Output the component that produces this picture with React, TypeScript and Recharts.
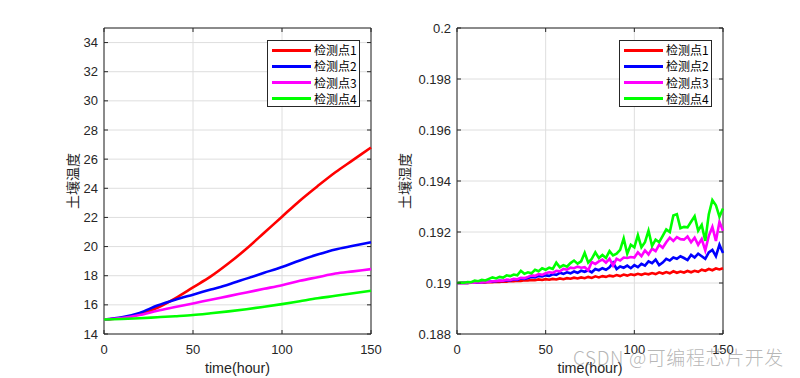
import React from "react";
import { LineChart, Line, XAxis, YAxis, CartesianGrid, ReferenceArea, Label } from "recharts";

// ---------- data ----------
const tempHours = [0, 10, 20, 30, 40, 50, 60, 70, 80, 90, 100, 110, 120, 130, 140, 150];
const temp1 = [15.0, 15.1, 15.35, 15.8, 16.45, 17.2, 17.95, 18.85, 19.85, 20.95, 22.05, 23.15, 24.15, 25.1, 25.95, 26.8];
const temp2 = [15.0, 15.15, 15.45, 15.95, 16.35, 16.7, 17.05, 17.4, 17.8, 18.2, 18.6, 19.05, 19.45, 19.8, 20.05, 20.3];
const temp3 = [15.0, 15.1, 15.3, 15.6, 15.85, 16.1, 16.35, 16.6, 16.85, 17.1, 17.35, 17.65, 17.9, 18.15, 18.3, 18.45];
const temp4 = [15.0, 15.03, 15.08, 15.15, 15.22, 15.3, 15.42, 15.55, 15.7, 15.87, 16.05, 16.25, 16.45, 16.62, 16.8, 16.97];

const humHours = [
  0, 2, 4, 6, 8, 10, 12, 14, 16, 18, 20, 22, 24, 26, 28, 30, 32, 34, 36, 38,
  40, 42, 44, 46, 48, 50, 52, 54, 56, 58, 60, 62, 64, 66, 68, 70, 72, 74, 76, 78,
  80, 82, 84, 86, 88, 90, 92, 94, 96, 98, 100, 102, 104, 106, 108, 110, 112, 114, 116, 118,
  120, 122, 124, 126, 128, 130, 132, 134, 136, 138, 140, 142, 144, 146, 148, 150,
];
const hum1 = [
  0.19, 0.19, 0.19001, 0.19, 0.19001, 0.19002, 0.19001, 0.19003, 0.19002, 0.19004,
  0.19003, 0.19005, 0.19004, 0.19006, 0.19005, 0.19008, 0.19007, 0.19009, 0.19008, 0.19011,
  0.1901, 0.19012, 0.19011, 0.19014, 0.19012, 0.19015, 0.19013, 0.19016, 0.19014, 0.19018,
  0.19015, 0.19019, 0.19017, 0.19021, 0.19018, 0.19022, 0.19019, 0.19024, 0.1902, 0.19026,
  0.19022, 0.19027, 0.19024, 0.19029, 0.19026, 0.19031, 0.19027, 0.19033, 0.19029, 0.19034,
  0.19031, 0.19036, 0.19032, 0.19037, 0.19034, 0.19039, 0.19035, 0.19042, 0.19037, 0.19043,
  0.19038, 0.19046, 0.1904, 0.19045, 0.19041, 0.19047, 0.19042, 0.19048, 0.19044, 0.19052,
  0.19048, 0.19055, 0.1905, 0.19057, 0.19053, 0.19058,
];
const hum2 = [
  0.19, 0.19, 0.19001, 0.19, 0.19002, 0.19001, 0.19002, 0.19003, 0.19004, 0.19005,
  0.19006, 0.19007, 0.19009, 0.19008, 0.19011, 0.1901, 0.19014, 0.19012, 0.19018, 0.19016,
  0.1902, 0.19024, 0.19022, 0.19028, 0.19026, 0.1903, 0.19028, 0.19034, 0.19032, 0.1904,
  0.19036, 0.19042, 0.19038, 0.19045, 0.1904, 0.19048, 0.19044, 0.1905, 0.19042, 0.19055,
  0.1905, 0.19058, 0.19052, 0.19062, 0.1908, 0.19055, 0.19065, 0.1906, 0.19068, 0.19058,
  0.1907, 0.19062, 0.19075, 0.19068, 0.19085, 0.19078, 0.19092, 0.1907, 0.1908, 0.19095,
  0.19088, 0.191, 0.19095, 0.19105, 0.19098, 0.1909, 0.1911, 0.191, 0.19115, 0.19105,
  0.19095, 0.1912, 0.1913, 0.19105, 0.1915, 0.19118,
];
const hum3 = [
  0.19, 0.19, 0.19001, 0.19, 0.19002, 0.19001, 0.19003, 0.19002, 0.19005, 0.19004,
  0.19007, 0.19008, 0.1901, 0.19009, 0.19013, 0.19012, 0.19016, 0.19015, 0.1902, 0.19019,
  0.19024, 0.1903, 0.19028, 0.19035, 0.19032, 0.19038, 0.19042, 0.1904, 0.19048, 0.19046,
  0.19055, 0.19052, 0.1906, 0.19058, 0.19064, 0.1906, 0.19062, 0.1905, 0.19082, 0.19075,
  0.19085, 0.19092, 0.1908, 0.19095, 0.19068, 0.19095, 0.19088, 0.191, 0.19098, 0.19102,
  0.191, 0.1912, 0.19105, 0.19128, 0.19112, 0.19135, 0.19125, 0.1915, 0.19138, 0.1916,
  0.19178, 0.19165, 0.1918, 0.19172, 0.1917, 0.19182, 0.1916, 0.19178, 0.1915, 0.19172,
  0.19128, 0.19185, 0.1922, 0.19165, 0.1924, 0.19205,
];
const hum4 = [
  0.19, 0.19002, 0.19001, 0.19004, 0.19003, 0.19009, 0.19007, 0.19012, 0.1901, 0.19016,
  0.19022, 0.19018, 0.19024, 0.19021, 0.1903, 0.19027, 0.19033, 0.1903, 0.19048, 0.19036,
  0.19042, 0.19038, 0.19052, 0.19046, 0.19058, 0.19052, 0.1906, 0.19055, 0.1908, 0.19062,
  0.1907, 0.19064, 0.19078, 0.19088, 0.19076, 0.19085, 0.19118, 0.1908, 0.19095, 0.1912,
  0.19098, 0.1911, 0.19098, 0.19125, 0.19108, 0.19115, 0.1913, 0.19175, 0.19115, 0.1915,
  0.1914, 0.19188, 0.1914, 0.1916, 0.19205, 0.19145, 0.1917, 0.1916, 0.19185, 0.1921,
  0.192, 0.19265, 0.1927, 0.19215, 0.1922, 0.19218, 0.1924, 0.19262, 0.19205, 0.19228,
  0.19165, 0.1927, 0.19325, 0.19305, 0.1926, 0.19292,
];

const seriesNames = ["检测点1", "检测点2", "检测点3", "检测点4"];
const seriesColors = ["#ff0000", "#0000ff", "#ff00ff", "#00ff00"];
const xTicks = [0, 50, 100, 150];
const tempTicks = [14, 16, 18, 20, 22, 24, 26, 28, 30, 32, 34];
const humTicks = [0.188, 0.19, 0.192, 0.194, 0.196, 0.198, 0.2];
const tempLabel = "土壤温度";
const humLabel = "土壤湿度";
const xLabel = "time(hour)";
const watermark = "CSDN @可编程芯片开发";

const tempData = tempHours.map((t, i) => ({ t, s1: temp1[i], s2: temp2[i], s3: temp3[i], s4: temp4[i] }));
const humData = humHours.map((t, i) => ({ t, s1: hum1[i], s2: hum2[i], s3: hum3[i], s4: hum4[i] }));

// ---------- layout ----------
const FONT = "'Liberation Sans', Arial, Helvetica, sans-serif";
const CJK = "'Noto Sans CJK SC', 'Liberation Sans', sans-serif";
const TXT = "#262626";
const CH_H = 378;
const PLOT_TOP = 28;
const PLOT_BOTTOM = 334;
const TICK_LEN = 4;

type PanelProps = {
  data: any[];
  width: number;
  yDomain: [number, number];
  yTicks: number[];
  yFmt: (v: number) => string;
  yAxisWidth: number;
  rightMargin: number;
  yLabel: string;
  yLabelX: number;
  lineType: "monotone" | "linear";
};

function Panel(p: PanelProps) {
  const plotLeft = p.yAxisWidth;
  const plotRight = p.width - p.rightMargin;

  const XTick = (props: any) => {
    const { x, y, payload } = props;
    return (
      <g>
        <line x1={x} x2={x} y1={y} y2={y - TICK_LEN} stroke={TXT} strokeWidth={1} />
        <line x1={x} x2={x} y1={PLOT_TOP} y2={PLOT_TOP + TICK_LEN} stroke={TXT} strokeWidth={1} />
        <text x={x} y={y + 20} textAnchor="middle" fill={TXT} fontSize={13} fontFamily={FONT}>
          {payload.value}
        </text>
      </g>
    );
  };
  const YTick = (props: any) => {
    const { x, y, payload } = props;
    return (
      <g>
        <line x1={x} x2={x + TICK_LEN} y1={y} y2={y} stroke={TXT} strokeWidth={1} />
        <line x1={plotRight} x2={plotRight - TICK_LEN} y1={y} y2={y} stroke={TXT} strokeWidth={1} />
        <text x={x - 6} y={y + 4.5} textAnchor="end" fill={TXT} fontSize={13} fontFamily={FONT}>
          {p.yFmt(payload.value)}
        </text>
      </g>
    );
  };
  const YLabelContent = () => {
    const cx = p.yLabelX;
    const cy = (PLOT_TOP + PLOT_BOTTOM) / 2;
    return (
      <text
        x={cx}
        y={cy}
        transform={`rotate(-90 ${cx} ${cy})`}
        textAnchor="middle"
        dominantBaseline="central"
        fill={TXT}
        fontSize={14}
        fontFamily={CJK}
      >
        {p.yLabel}
      </text>
    );
  };
  const XLabelContent = () => {
    const cx = (plotLeft + plotRight) / 2;
    return (
      <text x={cx} y={373} textAnchor="middle" fill={TXT} fontSize={14.3} fontFamily={FONT}>
        {xLabel}
      </text>
    );
  };

  return (
    <LineChart
      width={p.width}
      height={CH_H}
      data={p.data}
      margin={{ top: PLOT_TOP, right: p.rightMargin, bottom: 0, left: 0 }}
    >
      <CartesianGrid stroke="#dedede" strokeWidth={1} />
      <XAxis
        dataKey="t"
        type="number"
        domain={[0, 150]}
        ticks={xTicks}
        height={CH_H - PLOT_BOTTOM}
        axisLine={false}
        tickLine={false}
        tickSize={0}
        tickMargin={0}
        tick={XTick}
        interval={0}
      >
        <Label content={XLabelContent} />
      </XAxis>
      <YAxis
        type="number"
        domain={p.yDomain}
        ticks={p.yTicks}
        width={p.yAxisWidth}
        axisLine={false}
        tickLine={false}
        tickSize={0}
        tickMargin={0}
        tick={YTick}
        interval={0}
        allowDataOverflow
      >
        <Label content={YLabelContent} />
      </YAxis>
      {seriesNames.map((n, i) => (
        <Line
          key={n}
          dataKey={`s${i + 1}`}
          name={n}
          type={p.lineType}
          stroke={seriesColors[i]}
          strokeWidth={2.6}
          dot={false}
          activeDot={false}
          isAnimationActive={false}
        />
      ))}
      <ReferenceArea
        x1={0}
        x2={150}
        y1={p.yDomain[0]}
        y2={p.yDomain[1]}
        fill="none"
        fillOpacity={0}
        stroke={TXT}
        strokeWidth={1}
        ifOverflow="visible"
      />
    </LineChart>
  );
}

function LegendBox({ left }: { left: number }) {
  return (
    <div
      style={{
        position: "absolute",
        left,
        top: 40,
        width: 91,
        height: 65,
        border: "1px solid #262626",
        background: "#ffffff",
        boxSizing: "content-box",
      }}
    >
      {seriesNames.map((n, i) => (
        <div
          key={n}
          style={{
            position: "absolute",
            left: 0,
            top: 1 + i * 16.3,
            height: 16,
            width: 91,
            display: "flex",
            alignItems: "center",
          }}
        >
          <div style={{ marginLeft: 4, width: 39, height: 3, background: seriesColors[i] }} />
          <span
            style={{
              marginLeft: 3,
              fontFamily: CJK,
              fontSize: 12,
              color: "#000",
              whiteSpace: "nowrap",
              lineHeight: "16px",
            }}
          >
            {n}
          </span>
        </div>
      ))}
    </div>
  );
}

export default function App() {
  const fmtTemp = (v: number) => String(v);
  const fmtHum = (v: number) => String(+v.toFixed(3));
  return (
    <div style={{ position: "absolute", left: 0, top: 0, width: 800, height: 378, background: "#fff", overflow: "hidden" }}>
      <div style={{ position: "absolute", left: 0, top: 0 }}>
        <Panel
          data={tempData}
          width={390}
          yDomain={[14, 35]}
          yTicks={tempTicks}
          yFmt={fmtTemp}
          yAxisWidth={104}
          rightMargin={19}
          yLabel={tempLabel}
          yLabelX={72}
          lineType="monotone"
        />
      </div>
      <div style={{ position: "absolute", left: 390, top: 0 }}>
        <Panel
          data={humData}
          width={410}
          yDomain={[0.188, 0.2]}
          yTicks={humTicks}
          yFmt={fmtHum}
          yAxisWidth={67}
          rightMargin={77}
          yLabel={humLabel}
          yLabelX={14}
          lineType="linear"
        />
      </div>
      <LegendBox left={267} />
      <LegendBox left={619} />
      <div
        style={{
          position: "absolute",
          left: 573,
          top: 345,
          fontFamily: CJK,
          fontSize: 19,
          fontWeight: 300,
          letterSpacing: 0.6,
          color: "rgba(120,120,120,0.55)",
          whiteSpace: "nowrap",
          lineHeight: "24px",
        }}
      >
        {watermark}
      </div>
    </div>
  );
}
